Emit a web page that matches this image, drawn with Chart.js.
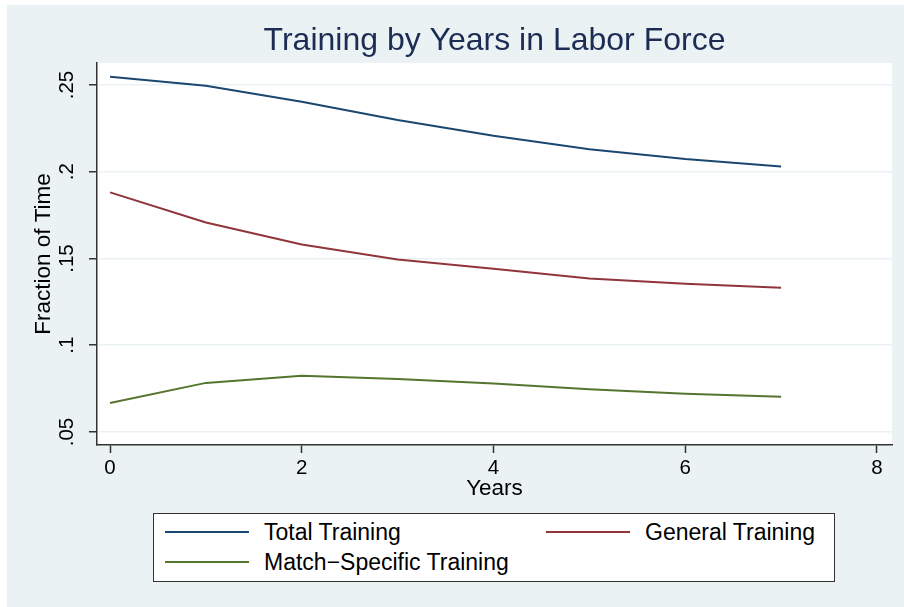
<!DOCTYPE html>
<html><head><meta charset="utf-8">
<script src="https://cdn.jsdelivr.net/npm/chart.js@4.4.1/dist/chart.umd.min.js"></script>
<style>
html,body{margin:0;padding:0;background:#fff;}
#wrap{position:relative;width:904px;height:607px;overflow:hidden;}
#bg{position:absolute;left:7px;top:5px;right:0;bottom:0;background:#EAF2F3;}
#c{position:absolute;left:0;top:0;}
#legend{position:absolute;left:153px;top:513px;width:680px;height:67px;border:1.5px solid #333;background:#fff;font-family:"Liberation Sans",Arial,sans-serif;font-size:23px;color:#000;}
.item{position:absolute;display:flex;align-items:center;height:26px;white-space:nowrap;}
.sw{width:84px;height:0;border-top:2px solid;margin-right:15px;}
</style></head>
<body>
<div id="wrap">
<div id="bg"></div>
<canvas id="c" width="904" height="607"></canvas>
<div id="legend"></div>
</div>
<script>
const years = [0, 1, 2, 3, 4, 5, 6, 7];
const totalTraining = [0.2548, 0.2496, 0.2404, 0.2299, 0.2207, 0.2130, 0.2073, 0.2030];
const generalTraining = [0.1881, 0.1708, 0.1581, 0.1494, 0.1441, 0.1385, 0.1355, 0.1332];
const matchSpecificTraining = [0.0667, 0.0783, 0.0824, 0.0805, 0.0780, 0.0747, 0.0720, 0.0703];
const seriesNames = ['Total Training', 'General Training', 'Match\u2212Specific Training'];
const xTicks = [0, 2, 4, 6, 8];
const xTickLabels = ['0', '2', '4', '6', '8'];
const yTicks = [0.05, 0.1, 0.15, 0.2, 0.25];
const yTickLabels = ['.05', '.1', '.15', '.2', '.25'];

const colors = ['#1a476f', '#90353b', '#55752f'];
const FONT = '"Liberation Sans", Arial, sans-serif';
const allSeries = [totalTraining, generalTraining, matchSpecificTraining];

const datasets = allSeries.map((vals, i) => ({
  label: seriesNames[i],
  data: years.map((x, j) => ({x: x, y: vals[j]})),
  borderColor: colors[i],
  backgroundColor: colors[i],
  borderWidth: 2,
  pointRadius: 0,
  tension: 0,
  fill: false
}));

const plotBg = {
  id: 'plotBg',
  beforeDraw(chart) {
    const {ctx, chartArea: a} = chart;
    ctx.save();
    ctx.fillStyle = '#ffffff';
    ctx.fillRect(a.left, a.top, a.right - a.left, a.bottom - a.top);
    ctx.restore();
  }
};

new Chart(document.getElementById('c'), {
  type: 'line',
  data: {datasets},
  plugins: [plotBg],
  options: {
    responsive: false,
    devicePixelRatio: 1,
    animation: false,
    layout: {padding: {left: 0, right: 12, top: 0, bottom: 105}},
    plugins: {
      legend: {display: false},
      tooltip: {enabled: false},
      title: {
        display: true,
        fullSize: false,
        text: 'Training by Years in Labor Force',
        color: '#1c2c55',
        font: {family: FONT, size: 32, weight: 'normal'},
        padding: {top: 22, bottom: 2.6}
      }
    },
    scales: {
      x: {
        type: 'linear',
        min: -0.136,
        max: 8.157,
        afterBuildTicks: s => { s.ticks = xTicks.map(v => ({value: v})); },
        afterFit: s => { s.height = 57; },
        ticks: {
          callback: (v, i) => xTickLabels[i],
          font: {family: FONT, size: 20.5},
          color: '#000',
          padding: 3,
          maxRotation: 0,
          autoSkip: false
        },
        grid: {drawOnChartArea: false, drawTicks: true, tickLength: 8, tickColor: '#333', tickWidth: 1.5},
        border: {display: true, color: '#333', width: 1.5},
        title: {display: true, text: 'Years', color: '#000', font: {family: FONT, size: 22.5}, padding: {top: 0, bottom: 0}}
      },
      y: {
        type: 'linear',
        min: 0.0425,
        max: 0.2627,
        afterBuildTicks: s => { s.ticks = yTicks.map(v => ({value: v})); },
        afterFit: s => { s.width = 97; },
        ticks: {
          callback: (v, i) => yTickLabels[i],
          font: {family: FONT, size: 20.5},
          color: '#000',
          padding: 7,
          minRotation: 90,
          maxRotation: 90,
          crossAlign: 'center',
          autoSkip: false
        },
        grid: {color: '#EAF2F3', lineWidth: 1.5, drawTicks: true, tickLength: 8, tickColor: '#333', tickWidth: 1.5},
        border: {display: true, color: '#333', width: 1.5},
        title: {display: true, text: 'Fraction of Time', color: '#000', font: {family: FONT, size: 22.5}, padding: {top: 30, bottom: 0}}
      }
    }
  }
});

// HTML legend built from the datasets
const legendPos = [[11, 5], [392, 5], [11, 35]];
const leg = document.getElementById('legend');
seriesNames.forEach((name, i) => {
  const it = document.createElement('div');
  it.className = 'item';
  it.style.left = legendPos[i][0] + 'px';
  it.style.top = legendPos[i][1] + 'px';
  const sw = document.createElement('span');
  sw.className = 'sw';
  sw.style.borderTopColor = colors[i];
  const tx = document.createElement('span');
  tx.textContent = name;
  it.appendChild(sw);
  it.appendChild(tx);
  leg.appendChild(it);
});
</script>
</body></html>
